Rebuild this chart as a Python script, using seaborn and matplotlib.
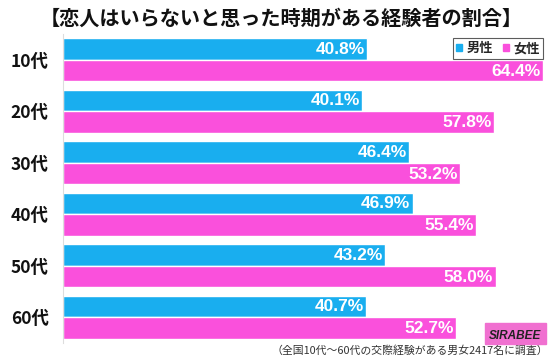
import matplotlib
matplotlib.use("Agg")
import matplotlib.pyplot as plt
import matplotlib.patches as mpatches
import pandas as pd
import seaborn as sns

# データ
ages = ["10代", "20代", "30代", "40代", "50代", "60代"]
male = [40.8, 40.1, 46.4, 46.9, 43.2, 40.7]
female = [64.4, 57.8, 53.2, 55.4, 58.0, 52.7]
series = ["男性", "女性"]
colors = {"男性": "#19AEEF", "女性": "#FA50DC"}

title = "【恋人はいらないと思った時期がある経験者の割合】"
note = "（全国10代～60代の交際経験がある男女2417名に調査）"

df = pd.DataFrame({
    "age": ages * 2,
    "sex": [series[0]] * len(ages) + [series[1]] * len(ages),
    "value": male + female,
})

sns.set_style("white")
plt.rcParams["font.family"] = ["Noto Sans CJK JP", "DejaVu Sans"]

fig = plt.figure(figsize=(5.5, 3.62), dpi=100)
ax = fig.add_axes([62.6 / 550, 19 / 362, 1 - 62.6 / 550, 309 / 362])

sns.barplot(data=df, x="value", y="age", hue="sex", order=ages,
            hue_order=series, palette=colors, orient="h", width=0.84,
            saturation=1, ax=ax, legend=False)

ax.set_xlim(0, 65.3)
ax.set_ylim(5.5, -0.5)
ax.set_xlabel("")
ax.set_ylabel("")
ax.set_xticks([])
for s in ["top", "right", "bottom"]:
    ax.spines[s].set_visible(False)
ax.spines["left"].set_color("#dddddd")
ax.spines["left"].set_linewidth(0.8)
ax.tick_params(axis="y", length=0, pad=10)
for lab in ax.get_yticklabels():
    lab.set_fontsize(12.5)
    lab.set_fontweight("bold")
    lab.set_color("#111111")

# 数値ラベル
for cont in ax.containers:
    for bar in cont:
        w = bar.get_width()
        ax.text(w - 0.3, bar.get_y() + bar.get_height() / 2 + 0.01, f"{w:.1f}%",
                ha="right", va="center", color="white", fontsize=12.5,
                fontweight="bold", family=["Liberation Sans", "DejaVu Sans"])

# 凡例
handles = [mpatches.Patch(color=colors[s], label=s) for s in series]
leg = fig.legend(handles=handles, loc="upper right",
                 bbox_to_anchor=(543 / 550, 1 - 38 / 362), ncol=2,
                 frameon=True, fancybox=False, handlelength=0.45,
                 handleheight=0.45, handletextpad=0.3, columnspacing=0.8,
                 borderpad=0.25, borderaxespad=0,
                 prop={"size": 9.5, "weight": "bold"})
leg.get_frame().set_edgecolor("#333333")
leg.get_frame().set_linewidth(0.8)

fig.text(281 / 550, 1 - 18 / 362, title, ha="center", va="center",
         fontsize=14.5, fontweight="bold", color="#111111")
fig.text(548 / 550, 1 - 351 / 362, note, ha="right", va="center",
         fontsize=7.8, color="#333333")

# SIRABEE ロゴ
fig.patches.append(mpatches.Rectangle((485 / 550, 1 - 344 / 362), 61 / 550, 21 / 362,
                                      transform=fig.transFigure, color="#F070D0",
                                      zorder=5))
fig.text(515 / 550, 1 - 336 / 362, "SIRABEE", ha="center", va="center",
         fontsize=8.5, fontweight="bold", style="italic", color="#222222",
         zorder=6, family=["Liberation Sans", "DejaVu Sans"])

fig.savefig("out.png", dpi=100)
